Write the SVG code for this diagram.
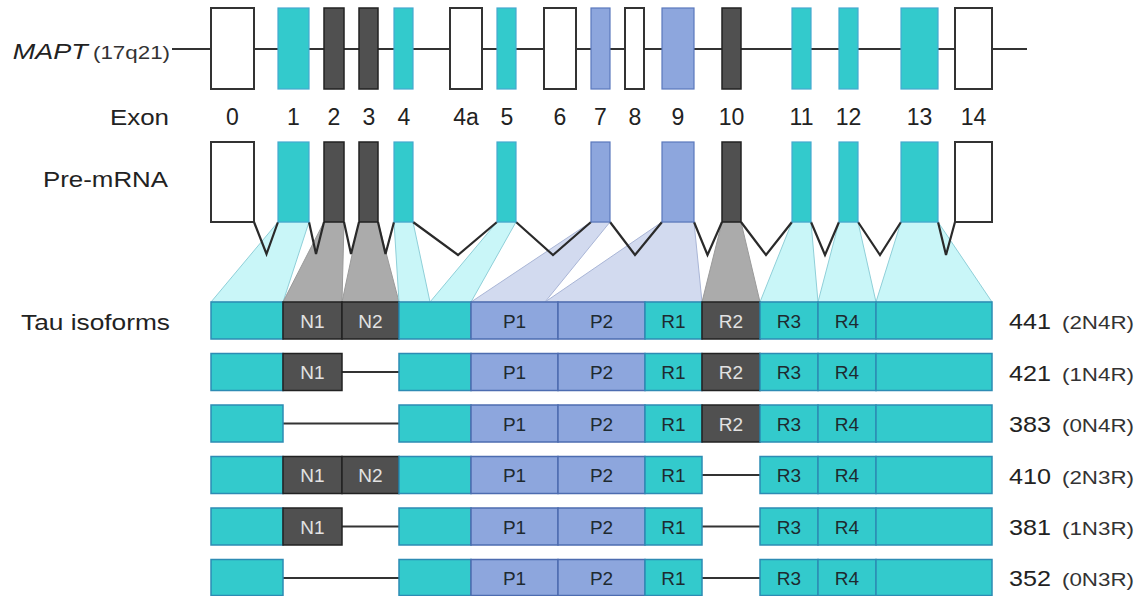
<svg xmlns="http://www.w3.org/2000/svg" width="1145" height="596" viewBox="0 0 1145 596">
  <style>
    text { font-family: "Liberation Sans", Arial, Helvetica, sans-serif; fill: #222222; }
    .lbl { font-size: 22px; }
    .sm { font-size: 18px; fill: #333333; }
    .num { font-size: 23px; text-anchor: middle; }
    .in { font-size: 19px; text-anchor: middle; fill: #1e2a30; }
    .inw { font-size: 19px; text-anchor: middle; fill: #e2e2e2; }
    .ex-w { fill: #ffffff; stroke: #333333; stroke-width: 2; }
    .ex-t { fill: #33cacc; stroke: #45a9cf; stroke-width: 1.2; }
    .ex-b { fill: #8da6dd; stroke: #5a78bd; stroke-width: 1.2; }
    .ex-d { fill: #505050; stroke: #222222; stroke-width: 1.5; }
    .bt { fill: #33cacc; stroke: #2d8cb4; stroke-width: 1.5; }
    .bb { fill: #8da6dd; stroke: #4d6cb0; stroke-width: 1.5; }
    .bd { fill: #505050; stroke: #222222; stroke-width: 1.5; }
    .gene { stroke: #333333; stroke-width: 2; fill: none; }
    .splice { stroke: #2a2a2a; stroke-width: 2.2; fill: none; stroke-linejoin: miter; }
    .skip { stroke: #333333; stroke-width: 2; }
    .map-c { fill: #c9f6f8; stroke: #8fcfd8; stroke-width: 1; }
    .map-g { fill: #ababab; stroke: #9a9a9a; stroke-width: 1; }
    .map-b { fill: #d2daef; stroke: #a9b5d6; stroke-width: 1; }
  </style>

  <!-- row captions -->
  <g id="captions">
    <text x="12.7" y="59" class="lbl" font-style="italic" textLength="75" lengthAdjust="spacingAndGlyphs">MAPT</text>
    <text x="93" y="59" class="sm" textLength="77" lengthAdjust="spacingAndGlyphs">(17q21)</text>
    <text x="110" y="125" class="lbl" textLength="59" lengthAdjust="spacingAndGlyphs">Exon</text>
    <text x="43" y="187" class="lbl" textLength="125" lengthAdjust="spacingAndGlyphs">Pre-mRNA</text>
    <text x="21" y="330" class="lbl" textLength="149" lengthAdjust="spacingAndGlyphs">Tau isoforms</text>
  </g>

  <!-- connectors: gene backbone, exon-to-domain projections, splice junctions, skipped segments -->
  <g id="connectors">
    <line class="gene" x1="172" y1="49" x2="1027" y2="49"/>

    <g id="projections">
      <polygon class="map-c" points="278,222 309,222 283,302 211,302"/>
      <polygon class="map-g" points="324,222 344,222 342,302 283,302"/>
      <polygon class="map-g" points="359,222 378,222 399,302 342,302"/>
      <polygon class="map-c" points="394,222 413,222 430,302 399,302"/>
      <polygon class="map-c" points="497,222 516,222 471,302 430,302"/>
      <polygon class="map-b" points="591,222 610,222 545,302 471,302"/>
      <polygon class="map-b" points="662,222 694,222 702,302 545,302"/>
      <polygon class="map-g" points="722,222 741,222 760,302 702,302"/>
      <polygon class="map-c" points="792,222 811,222 818,302 760,302"/>
      <polygon class="map-c" points="839,222 858,222 876,302 818,302"/>
      <polygon class="map-c" points="901,222 938,222 992,302 876,302"/>
    </g>

    <g id="splicing">
      <polyline class="splice" points="254,222 266.5,254 278,222"/>
      <polyline class="splice" points="309,222 316,254 324,222"/>
      <polyline class="splice" points="344,222 351,254 359,222"/>
      <polyline class="splice" points="378,222 385.5,254 394,222"/>
      <polyline class="splice" points="413,222 458,255 497,222"/>
      <polyline class="splice" points="516,222 553,255 591,222"/>
      <polyline class="splice" points="610,222 635,255 662,222"/>
      <polyline class="splice" points="694,222 707.5,255 722,222"/>
      <polyline class="splice" points="741,222 766,255 792,222"/>
      <polyline class="splice" points="811,222 825,255 839,222"/>
      <polyline class="splice" points="858,222 880,255 901,222"/>
      <polyline class="splice" points="938,222 946,255 955,222"/>
    </g>

    <g id="skipped">
      <line class="skip" x1="342" y1="372" x2="399" y2="372"/>
      <line class="skip" x1="283" y1="423.5" x2="399" y2="423.5"/>
      <line class="skip" x1="702" y1="475" x2="760" y2="475"/>
      <line class="skip" x1="342" y1="526.5" x2="399" y2="526.5"/>
      <line class="skip" x1="702" y1="526.5" x2="760" y2="526.5"/>
      <line class="skip" x1="283" y1="578" x2="399" y2="578"/>
      <line class="skip" x1="702" y1="578" x2="760" y2="578"/>
    </g>
  </g>

  <!-- MAPT gene exons -->
  <g id="gene-exons">
    <rect id="g-e0" class="ex-w" x="211" y="8" width="43" height="81"/>
    <rect id="g-e1" class="ex-t" x="278" y="8" width="31" height="81"/>
    <rect id="g-e2" class="ex-d" x="324" y="8" width="20" height="81"/>
    <rect id="g-e3" class="ex-d" x="359" y="8" width="19" height="81"/>
    <rect id="g-e4" class="ex-t" x="394" y="8" width="19" height="81"/>
    <rect id="g-e4a" class="ex-w" x="450" y="8" width="32" height="81"/>
    <rect id="g-e5" class="ex-t" x="497" y="8" width="19" height="81"/>
    <rect id="g-e6" class="ex-w" x="544" y="8" width="32" height="81"/>
    <rect id="g-e7" class="ex-b" x="591" y="8" width="19" height="81"/>
    <rect id="g-e8" class="ex-w" x="625" y="8" width="19" height="81"/>
    <rect id="g-e9" class="ex-b" x="662" y="8" width="32" height="81"/>
    <rect id="g-e10" class="ex-d" x="722" y="8" width="19" height="81"/>
    <rect id="g-e11" class="ex-t" x="792" y="8" width="19" height="81"/>
    <rect id="g-e12" class="ex-t" x="839" y="8" width="19" height="81"/>
    <rect id="g-e13" class="ex-t" x="901" y="8" width="37" height="81"/>
    <rect id="g-e14" class="ex-w" x="955" y="8" width="37" height="81"/>
  </g>

  <!-- exon numbering -->
  <g id="exon-numbers">
    <text class="num" x="232.5" y="125">0</text>
    <text class="num" x="293.5" y="125">1</text>
    <text class="num" x="334" y="125">2</text>
    <text class="num" x="369" y="125">3</text>
    <text class="num" x="404" y="125">4</text>
    <text class="num" x="466" y="125">4a</text>
    <text class="num" x="507" y="125">5</text>
    <text class="num" x="560" y="125">6</text>
    <text class="num" x="600.5" y="125">7</text>
    <text class="num" x="635" y="125">8</text>
    <text class="num" x="678" y="125">9</text>
    <text class="num" x="731.5" y="125">10</text>
    <text class="num" x="801.5" y="125">11</text>
    <text class="num" x="848.5" y="125">12</text>
    <text class="num" x="919.5" y="125">13</text>
    <text class="num" x="973.5" y="125">14</text>
  </g>

  <!-- pre-mRNA exons -->
  <g id="pre-mrna">
    <rect id="p-e0" class="ex-w" x="211" y="142" width="43" height="80"/>
    <rect id="p-e1" class="ex-t" x="278" y="142" width="31" height="80"/>
    <rect id="p-e2" class="ex-d" x="324" y="142" width="20" height="80"/>
    <rect id="p-e3" class="ex-d" x="359" y="142" width="19" height="80"/>
    <rect id="p-e4" class="ex-t" x="394" y="142" width="19" height="80"/>
    <rect id="p-e5" class="ex-t" x="497" y="142" width="19" height="80"/>
    <rect id="p-e7" class="ex-b" x="591" y="142" width="19" height="80"/>
    <rect id="p-e9" class="ex-b" x="662" y="142" width="32" height="80"/>
    <rect id="p-e10" class="ex-d" x="722" y="142" width="19" height="80"/>
    <rect id="p-e11" class="ex-t" x="792" y="142" width="19" height="80"/>
    <rect id="p-e12" class="ex-t" x="839" y="142" width="19" height="80"/>
    <rect id="p-e13" class="ex-t" x="901" y="142" width="37" height="80"/>
    <rect id="p-e14" class="ex-w" x="955" y="142" width="37" height="80"/>
  </g>

  <!-- isoform 441 (2N4R) -->
  <g id="iso-441">
    <rect class="bt" x="211" y="302" width="72" height="37"/>
    <rect class="bd" x="283" y="302" width="59" height="37"/>
    <rect class="bd" x="342" y="302" width="57" height="37"/>
    <rect class="bt" x="399" y="302" width="72" height="37"/>
    <rect class="bb" x="471" y="302" width="87" height="37"/>
    <rect class="bb" x="558" y="302" width="87" height="37"/>
    <rect class="bt" x="645" y="302" width="57" height="37"/>
    <rect class="bd" x="702" y="302" width="58" height="37"/>
    <rect class="bt" x="760" y="302" width="58" height="37"/>
    <rect class="bt" x="818" y="302" width="58" height="37"/>
    <rect class="bt" x="876" y="302" width="116" height="37"/>
    <text class="inw" x="312.5" y="327.5">N1</text>
    <text class="inw" x="370.5" y="327.5">N2</text>
    <text class="in" x="514.5" y="327.5">P1</text>
    <text class="in" x="601.5" y="327.5">P2</text>
    <text class="in" x="673.5" y="327.5">R1</text>
    <text class="inw" x="731" y="327.5">R2</text>
    <text class="in" x="789" y="327.5">R3</text>
    <text class="in" x="847" y="327.5">R4</text>
    <text class="lbl" x="1009" y="329" textLength="42" lengthAdjust="spacingAndGlyphs">441</text>
    <text class="sm" x="1062" y="329" textLength="72" lengthAdjust="spacingAndGlyphs">(2N4R)</text>
  </g>

  <!-- isoform 421 (1N4R) -->
  <g id="iso-421">
    <rect class="bt" x="211" y="353.5" width="72" height="37"/>
    <rect class="bd" x="283" y="353.5" width="59" height="37"/>
    <rect class="bt" x="399" y="353.5" width="72" height="37"/>
    <rect class="bb" x="471" y="353.5" width="87" height="37"/>
    <rect class="bb" x="558" y="353.5" width="87" height="37"/>
    <rect class="bt" x="645" y="353.5" width="57" height="37"/>
    <rect class="bd" x="702" y="353.5" width="58" height="37"/>
    <rect class="bt" x="760" y="353.5" width="58" height="37"/>
    <rect class="bt" x="818" y="353.5" width="58" height="37"/>
    <rect class="bt" x="876" y="353.5" width="116" height="37"/>
    <text class="inw" x="312.5" y="379">N1</text>
    <text class="in" x="514.5" y="379">P1</text>
    <text class="in" x="601.5" y="379">P2</text>
    <text class="in" x="673.5" y="379">R1</text>
    <text class="inw" x="731" y="379">R2</text>
    <text class="in" x="789" y="379">R3</text>
    <text class="in" x="847" y="379">R4</text>
    <text class="lbl" x="1009" y="380.5" textLength="42" lengthAdjust="spacingAndGlyphs">421</text>
    <text class="sm" x="1062" y="380.5" textLength="72" lengthAdjust="spacingAndGlyphs">(1N4R)</text>
  </g>

  <!-- isoform 383 (0N4R) -->
  <g id="iso-383">
    <rect class="bt" x="211" y="405" width="72" height="37"/>
    <rect class="bt" x="399" y="405" width="72" height="37"/>
    <rect class="bb" x="471" y="405" width="87" height="37"/>
    <rect class="bb" x="558" y="405" width="87" height="37"/>
    <rect class="bt" x="645" y="405" width="57" height="37"/>
    <rect class="bd" x="702" y="405" width="58" height="37"/>
    <rect class="bt" x="760" y="405" width="58" height="37"/>
    <rect class="bt" x="818" y="405" width="58" height="37"/>
    <rect class="bt" x="876" y="405" width="116" height="37"/>
    <text class="in" x="514.5" y="430.5">P1</text>
    <text class="in" x="601.5" y="430.5">P2</text>
    <text class="in" x="673.5" y="430.5">R1</text>
    <text class="inw" x="731" y="430.5">R2</text>
    <text class="in" x="789" y="430.5">R3</text>
    <text class="in" x="847" y="430.5">R4</text>
    <text class="lbl" x="1009" y="432" textLength="42" lengthAdjust="spacingAndGlyphs">383</text>
    <text class="sm" x="1062" y="432" textLength="72" lengthAdjust="spacingAndGlyphs">(0N4R)</text>
  </g>

  <!-- isoform 410 (2N3R) -->
  <g id="iso-410">
    <rect class="bt" x="211" y="456.5" width="72" height="37"/>
    <rect class="bd" x="283" y="456.5" width="59" height="37"/>
    <rect class="bd" x="342" y="456.5" width="57" height="37"/>
    <rect class="bt" x="399" y="456.5" width="72" height="37"/>
    <rect class="bb" x="471" y="456.5" width="87" height="37"/>
    <rect class="bb" x="558" y="456.5" width="87" height="37"/>
    <rect class="bt" x="645" y="456.5" width="57" height="37"/>
    <rect class="bt" x="760" y="456.5" width="58" height="37"/>
    <rect class="bt" x="818" y="456.5" width="58" height="37"/>
    <rect class="bt" x="876" y="456.5" width="116" height="37"/>
    <text class="inw" x="312.5" y="482">N1</text>
    <text class="inw" x="370.5" y="482">N2</text>
    <text class="in" x="514.5" y="482">P1</text>
    <text class="in" x="601.5" y="482">P2</text>
    <text class="in" x="673.5" y="482">R1</text>
    <text class="in" x="789" y="482">R3</text>
    <text class="in" x="847" y="482">R4</text>
    <text class="lbl" x="1009" y="483.5" textLength="42" lengthAdjust="spacingAndGlyphs">410</text>
    <text class="sm" x="1062" y="483.5" textLength="72" lengthAdjust="spacingAndGlyphs">(2N3R)</text>
  </g>

  <!-- isoform 381 (1N3R) -->
  <g id="iso-381">
    <rect class="bt" x="211" y="508" width="72" height="37"/>
    <rect class="bd" x="283" y="508" width="59" height="37"/>
    <rect class="bt" x="399" y="508" width="72" height="37"/>
    <rect class="bb" x="471" y="508" width="87" height="37"/>
    <rect class="bb" x="558" y="508" width="87" height="37"/>
    <rect class="bt" x="645" y="508" width="57" height="37"/>
    <rect class="bt" x="760" y="508" width="58" height="37"/>
    <rect class="bt" x="818" y="508" width="58" height="37"/>
    <rect class="bt" x="876" y="508" width="116" height="37"/>
    <text class="inw" x="312.5" y="533.5">N1</text>
    <text class="in" x="514.5" y="533.5">P1</text>
    <text class="in" x="601.5" y="533.5">P2</text>
    <text class="in" x="673.5" y="533.5">R1</text>
    <text class="in" x="789" y="533.5">R3</text>
    <text class="in" x="847" y="533.5">R4</text>
    <text class="lbl" x="1009" y="535" textLength="42" lengthAdjust="spacingAndGlyphs">381</text>
    <text class="sm" x="1062" y="535" textLength="72" lengthAdjust="spacingAndGlyphs">(1N3R)</text>
  </g>

  <!-- isoform 352 (0N3R) -->
  <g id="iso-352">
    <rect class="bt" x="211" y="559.5" width="72" height="36"/>
    <rect class="bt" x="399" y="559.5" width="72" height="36"/>
    <rect class="bb" x="471" y="559.5" width="87" height="36"/>
    <rect class="bb" x="558" y="559.5" width="87" height="36"/>
    <rect class="bt" x="645" y="559.5" width="57" height="36"/>
    <rect class="bt" x="760" y="559.5" width="58" height="36"/>
    <rect class="bt" x="818" y="559.5" width="58" height="36"/>
    <rect class="bt" x="876" y="559.5" width="116" height="36"/>
    <text class="in" x="514.5" y="585">P1</text>
    <text class="in" x="601.5" y="585">P2</text>
    <text class="in" x="673.5" y="585">R1</text>
    <text class="in" x="789" y="585">R3</text>
    <text class="in" x="847" y="585">R4</text>
    <text class="lbl" x="1009" y="586" textLength="42" lengthAdjust="spacingAndGlyphs">352</text>
    <text class="sm" x="1062" y="586" textLength="72" lengthAdjust="spacingAndGlyphs">(0N3R)</text>
  </g>
</svg>
